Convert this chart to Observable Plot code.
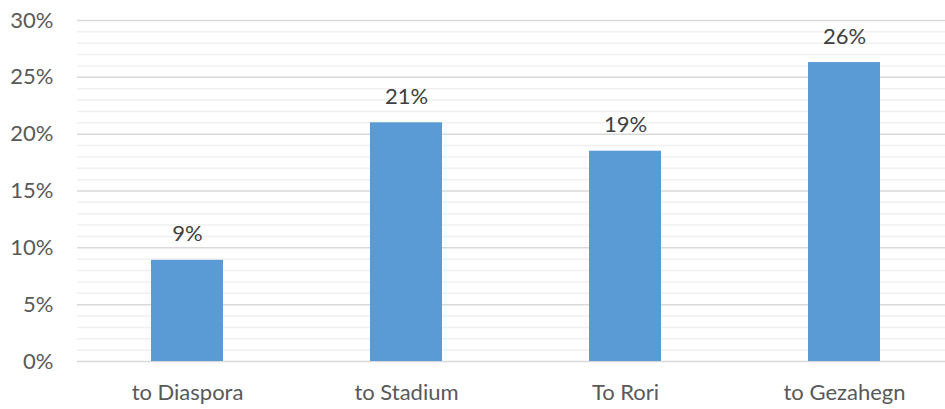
<!DOCTYPE html>
<html><head><meta charset="utf-8">
<script src="https://cdn.jsdelivr.net/npm/d3@7"></script>
<script src="https://cdn.jsdelivr.net/npm/@observablehq/plot@0.6"></script>
<style>body{margin:0;background:#fff;} svg{display:block;}</style>
</head><body><div id="chart"></div>
<script>
const categories = ["to Diaspora", "to Stadium", "To Rori", "to Gezahegn"];
const values = [0.089, 0.21, 0.185, 0.263];
const labels = ["9%", "21%", "19%", "26%"];
const majorTicks = [0, 0.05, 0.10, 0.15, 0.20, 0.25, 0.30];
const minorTicks = d3.range(0, 31).map(d => d / 100).filter(d => Math.round(d * 100) % 5 !== 0);

const data = categories.map((c, i) => ({cat: c, value: values[i], label: labels[i]}));

const chart = Plot.plot({
  width: 945,
  height: 409,
  marginTop: 20,
  marginBottom: 48,
  marginLeft: 77,
  marginRight: 0,
  style: {fontFamily: "Lato, 'Open Sans', sans-serif", fontSize: "22px", color: "#595959", background: "#fff"},
  x: {domain: categories, range: [77, 954], paddingInner: 0.67, paddingOuter: 0.335, label: null, tickSize: 0, tickPadding: 23},
  y: {domain: [0, 0.30], label: null, ticks: majorTicks, tickFormat: d => Math.round(d * 100) + "%", tickSize: 0, tickPadding: 24},
  marks: [
    Plot.ruleY(minorTicks, {stroke: "#f0f0f0", strokeWidth: 1.5}),
    Plot.ruleY(majorTicks, {stroke: "#d9d9d9", strokeWidth: 1.5}),
    Plot.barY(data, {x: "cat", y: "value", fill: "#5b9bd5"}),
    Plot.text(data, {x: "cat", y: "value", text: "label", dy: -26, fill: "#404040", fontSize: 22})
  ]
});
document.getElementById("chart").append(chart);
</script></body></html>
